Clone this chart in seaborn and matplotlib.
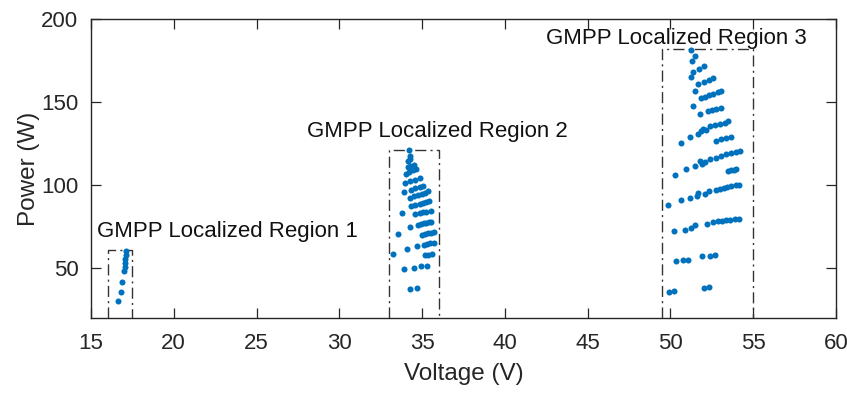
import numpy as np
import pandas as pd
import matplotlib
matplotlib.use("Agg")
import matplotlib.pyplot as plt
import seaborn as sns

# Maximum power points found under the shading patterns, grouped by region
v_region1 = [16.65, 16.79, 16.89, 16.99, 17.03, 17.05, 17.07, 17.10, 17.12]
p_region1 = [30.0, 35.7, 41.7, 48.1, 50.5, 53.2, 55.6, 58.2, 60.2]

v_region2 = [34.20, 34.28, 34.16, 34.30,
             34.12, 34.28, 34.50,
             34.00, 34.20, 34.45, 34.62,
             33.98, 34.30, 34.55, 34.85,
             33.92, 34.36, 34.60, 34.85, 35.07,
             34.26, 34.50, 34.75, 35.00, 35.20, 35.37,
             34.32, 34.60, 34.85, 35.05, 35.25, 35.42,
             33.76, 34.60, 34.85, 35.05, 35.25, 35.53,
             34.26, 34.77, 34.95, 35.10, 35.25, 35.40, 35.53,
             33.56, 34.97, 35.15, 35.35, 35.55, 35.73,
             33.26, 34.10, 34.70, 35.13, 35.30, 35.50, 35.73,
             35.20, 35.38, 35.57,
             33.90, 34.52, 34.93, 35.29,
             34.28, 34.70]
p_region2 = [121.0, 117.8, 114.6, 115.4,
             110.9, 111.7, 112.3,
             106.5, 107.8, 109.0, 109.8,
             101.5, 102.5, 103.2, 104.0,
             95.6, 97.2, 98.0, 98.7, 99.2,
             92.5, 93.2, 94.0, 94.8, 95.5, 96.2,
             87.4, 88.2, 88.8, 89.3, 89.8, 90.2,
             83.4, 82.8, 83.2, 83.5, 83.9, 84.3,
             74.8, 76.2, 76.5, 76.9, 77.2, 77.5, 77.8,
             70.8, 70.2, 70.6, 71.0, 71.3, 71.6,
             58.6, 61.6, 63.2, 64.2, 64.5, 64.9, 65.2,
             57.8, 58.2, 58.6,
             49.2, 50.2, 51.0, 51.4,
             37.6, 37.9]

v_region3 = [51.27, 51.49, 51.33,
             51.37, 51.72, 52.02,
             51.27,
             51.67, 52.03, 52.32, 52.58,
             51.47,
             51.87, 52.10, 52.35, 52.60, 52.85, 53.08,
             51.37,
             51.81, 52.24, 52.50, 52.78, 53.04,
             50.66, 51.21, 51.67, 51.87, 51.97, 52.15, 52.42, 52.68, 52.98, 53.28, 53.49,
             52.78, 53.05, 53.33, 53.63,
             50.27, 50.97, 51.51, 51.77, 51.93, 52.10, 52.42, 52.78, 53.08, 53.38, 53.68, 53.95, 54.19,
             53.48, 53.65, 53.82, 53.98,
             49.86, 50.65, 51.21, 51.61, 51.67, 52.08, 52.32, 52.74, 52.98, 53.22, 53.42, 53.68, 53.95, 54.15,
             50.22, 50.85, 51.25, 51.47, 52.18, 52.58, 52.88, 53.10, 53.35, 53.62, 53.89, 54.13,
             50.33, 50.73, 51.05, 51.92, 52.38, 52.70,
             49.92, 50.24, 52.03, 52.34]
p_region3 = [181.4, 177.8, 174.8,
             168.0, 170.0, 171.4,
             165.3,
             160.9, 162.3, 163.3, 164.3,
             156.9,
             152.3, 153.2, 154.2, 155.0, 155.8, 156.7,
             147.7,
             142.9, 144.7, 145.3, 146.0, 146.7,
             125.3, 128.9, 130.9, 132.3, 133.7, 133.2, 135.3, 135.9, 136.7, 137.3, 138.3,
             126.7, 127.6, 128.2, 128.9,
             106.2, 109.7, 111.2, 114.2, 112.9, 113.8, 115.7, 116.6, 117.7, 118.7, 119.3, 119.9, 120.3,
             108.6, 109.0, 109.3, 109.7,
             87.8, 90.8, 92.2, 93.6, 95.2, 94.8, 96.2, 97.2, 97.8, 98.2, 98.8, 99.6, 100.0, 100.2,
             72.2, 73.2, 74.0, 76.2, 76.8, 77.6, 78.2, 78.5, 78.8, 79.2, 79.6, 79.8,
             54.4, 54.8, 55.0, 57.2, 57.6, 58.0,
             35.8, 36.0, 38.2, 38.4]

# Localized search windows (voltage span and power ceiling) and their labels
region_v_lo = [16.0, 33.0, 49.5]
region_v_hi = [17.5, 36.0, 55.0]
region_p_top = [61.0, 121.0, 182.0]
region_labels = ["GMPP Localized Region 1", "GMPP Localized Region 2", "GMPP Localized Region 3"]
label_v = [15.35, 28.05, 42.5]
label_p = [72.0, 132.5, 188.5]

x_ticks = [15, 20, 25, 30, 35, 40, 45, 50, 55, 60]
y_ticks = [50, 100, 150, 200]

df = pd.DataFrame({
    "Voltage": v_region1 + v_region2 + v_region3,
    "Power": p_region1 + p_region2 + p_region3,
})

sns.set_theme(style="ticks")
plt.rcParams["font.family"] = ["Liberation Sans", "DejaVu Sans"]
ink = "#262626"

fig = plt.figure(figsize=(8.47, 3.95), dpi=100)
ax = fig.add_axes([0.1074, 0.195, 0.8796, 0.757])

sns.scatterplot(data=df, x="Voltage", y="Power", ax=ax, color="#0072BD",
                s=19, linewidth=0, zorder=3)

y_floor = 20
for lo, hi, top in zip(region_v_lo, region_v_hi, region_p_top):
    ax.plot([lo, lo, hi, hi], [y_floor, top, top, y_floor],
            color="#333333", linewidth=1.0, zorder=2, clip_on=False,
            dashes=(8, 3, 1.5, 3))

for txt, xv, yv in zip(region_labels, label_v, label_p):
    ax.text(xv, yv, txt, fontsize=16, color="#111111", ha="left", va="center")

ax.set_xlim(15, 60)
ax.set_ylim(20, 200)
ax.set_xticks(x_ticks)
ax.set_yticks(y_ticks)
ax.set_xlabel("Voltage (V)", fontsize=17.5, color=ink, labelpad=6)
ax.set_ylabel("Power (W)", fontsize=17.5, color=ink, labelpad=1)
ax.tick_params(axis="both", direction="in", length=7, width=0.9, colors=ink,
               labelsize=16, top=True, right=True, pad=11)
ax.tick_params(axis="y", pad=9)
for side in ax.spines.values():
    side.set_visible(True)
    side.set_color(ink)
    side.set_linewidth(1.0)

fig.savefig("out.png", dpi=100)
